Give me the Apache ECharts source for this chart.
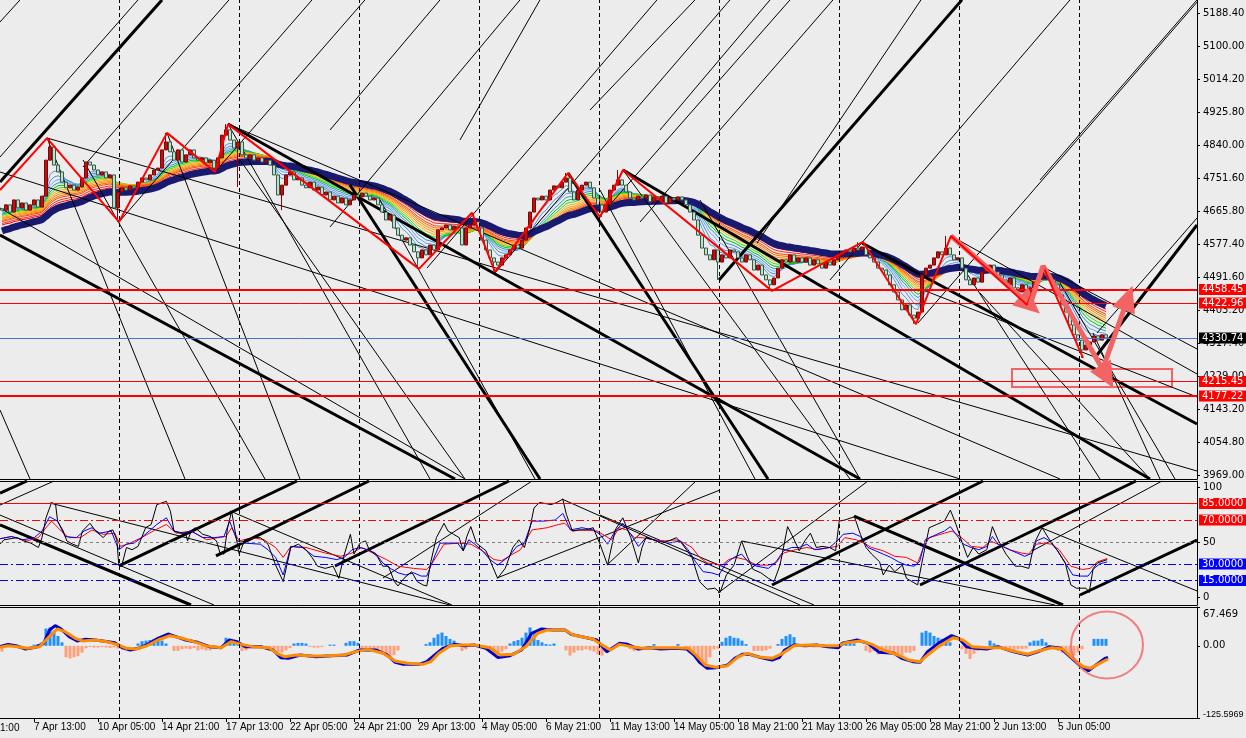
<!DOCTYPE html>
<html>
<head>
<meta charset="utf-8">
<script src="https://cdn.jsdelivr.net/npm/echarts@6/dist/echarts.min.js"></script>
<style>
html,body{margin:0;padding:0;background:#ececec;}
#chart{width:1246px;height:738px;}
</style>
</head>
<body>
<div id="chart"></div>
<script>
// ---- price data (H4 bars) ----
const firstOpen = 4672;
const closes = [
  4668,4682,4663,4695,4674,4687,4668,4682,4695,4676,
  4705,4800,4835,4787,4769,4742,4727,4734,4721,4729,
  4753,4795,4787,4774,4761,4769,4753,4761,4674,4716,
  4727,4721,4732,4727,4742,4753,4748,4761,4774,4779,
  4827,4848,4822,4800,4827,4795,4814,4827,4806,4800,
  4806,4793,4800,4779,4806,4866,4880,4853,4832,4848,
  4814,4806,4814,4800,4806,4795,4800,4787,4761,4708,
  4734,4761,4769,4748,4753,4734,4727,4742,4721,4729,
  4708,4716,4695,4705,4687,4700,4682,4695,4708,4703,
  4713,4705,4695,4700,4682,4663,4642,4655,4621,4602,
  4589,4595,4576,4558,4542,4563,4550,4576,4563,4616,
  4621,4629,4616,4626,4621,4576,4621,4629,4637,4621,
  4589,4563,4542,4531,4523,4542,4550,4563,4576,4568,
  4589,4621,4663,4700,4695,4705,4695,4721,4732,4727,
  4742,4753,4716,4695,4721,4734,4742,4727,4700,4682,
  4663,4682,4721,4734,4748,4734,4716,4700,4695,4705,
  4700,4708,4690,4703,4695,4705,4687,4700,4695,4703,
  4695,4682,4663,4642,4602,4568,4550,4537,4563,4531,
  4550,4542,4563,4558,4542,4531,4550,4537,4510,4523,
  4497,4484,4471,4489,4515,4537,4531,4550,4531,4542,
  4531,4542,4523,4537,4526,4515,4531,4523,4537,4550,
  4558,4563,4558,4568,4563,4571,4550,4542,4531,4515,
  4510,4497,4471,4452,4431,4405,4418,4391,4383,4399,
  4497,4515,4523,4542,4558,4550,4568,4550,4537,4542,
  4515,4484,4471,4489,4478,4505,4515,4523,4505,4497,
  4484,4471,4489,4463,4452,4471,4444,4463,4478,4489,
  4505,4497,4484,4471,4444,4418,4399,4365,4339,4325,
  4299,4312,4320,4336,4325,4339,4330.74
];
// [bar, high, low] for the longer shadows
const wicks = [
  [12,4858,null],[29,null,4637],[41,4872,null],[53,null,4769],[56,4895,null],
  [59,null,4729],[70,null,4668],[104,null,4513],[118,4661,null],[123,null,4505],
  [141,4766,null],[150,null,4650],[154,4774,null],[179,null,4484],[192,null,4455],
  [214,4584,null],[228,null,4368],[236,4600,null],[256,null,4418],[261,4521,null],
  [270,null,4278]
];

const ribbonPeriods = [5,7,9,11,13,15,17,19,21,23,25,28,31];
const ribbonSeeds = [4668,4665,4662,4658,4655,4652,4648,4645,4642,4638,4635,4630,4626];
const ribbonColors = ['#5b9bd5','#4a90e2','#6aa8f0','#3d8fe0','#00c800','#2edc2e','#ffb400','#ffa000',
  '#ff8c00','#ff6a00','#ff4500','#ff2a2a','#ff0000'];
const navyPeriod = 36;
const navySeed = 4610;

const zigzag = [[-0.5,4721],[11.25,4858],[29.25,4637],[41.25,4872],[53.25,4769],[56.5,4895],
  [104.25,4513],[117.5,4661],[123.25,4505],[141.5,4766],[149.5,4650],[155.25,4774],
  [192.5,4455],[215.25,4584],[228.5,4367],[237.25,4600],[256.25,4418],[260.25,4521],[270.25,4278]];

const redLevelsThick = [4458.45, 4177.22];
const redLevelsThin = [4422.96, 4215.45];
const bidPrice = 4330.74;

const priceTicks = [5188.40,5100.00,5014.20,4925.80,4840.00,4751.60,4665.80,4577.40,4491.60,
  4403.20,4317.40,4229.00,4143.20,4054.80,3969.00];
const timeTickBars = [8,24,40,56,72,88,104,120,136,152,168,184,200,216,232,248,264];
const timeLabels = ['7 Apr 13:00','10 Apr 05:00','14 Apr 21:00','17 Apr 13:00','22 Apr 05:00',
  '24 Apr 21:00','29 Apr 13:00','4 May 05:00','6 May 21:00','11 May 13:00','14 May 05:00',
  '18 May 21:00','21 May 13:00','26 May 05:00','28 May 21:00','2 Jun 13:00','5 Jun 05:00'];
const gridBars = [29.25,59.25,89.25,119.25,149.25,179.25,209.25,239.25,269.25];

// trend lines in the price window: [[bar, price], [bar, price]]
const thinLines = [
  [[-0.5,5164.6],[4.5,5223]], [[-0.5,4808.3],[34,5223]], [[20.25,4781.9],[56.75,5223]],
  [[29.25,4636.7],[77.5,5223]], [[53.25,4768.7],[90.75,5223]], [[82,4623.6],[129.5,5223]],
  [[106.25,4515.3],[163.75,5223]], [[123.25,4502.1],[182,5223]], [[149.5,4652.6],[197,5223]],
  [[159.5,4636.7],[207.75,5223]], [[188.75,4581.3],[229.75,5223]], [[207,4483.7],[267,5223]],
  [[229,4370.2],[299.25,5223]], [[273.75,4343.8],[298.75,4647.3]], [[259.5,4747.6],[298.75,5223]],
  [[82,4879.6],[109.5,5223]], [[114.5,4853.2],[134.5,5223]], [[147,4932.4],[173.25,5223]],
  [[164.5,4879.6],[192,5223]],
  [[-0.5,4768.7],[239.5,3958.4]], [[11.25,4858.5],[298.75,3979.5]], [[-0.5,4673.7],[115.75,3958.4]],
  [[56.5,4895.4],[264.5,3958.4]], [[237.75,4597.2],[298.75,4235.6]], [[260.25,4518],[298.75,4301.6]],
  [[230.25,4457.3],[298.75,4174.9]],
  [[11.25,4858.5],[45.75,3958.4]], [[20.25,4800.4],[65.75,3958.4]], [[41.25,4871.7],[74.5,3958.4]],
  [[56.5,4895.4],[107,3958.4]], [[59.5,4800.4],[115.75,3958.4]], [[94.5,4694.8],[133.25,3958.4]],
  [[149.5,4721.2],[188.25,3958.4]], [[155.25,4774],[212,3958.4]], [[174.5,4694.8],[214.5,3958.4]],
  [[239.5,4528.5],[274.5,3958.4]], [[244.5,4449.4],[287,3958.4]], [[264.5,4475.7],[293.25,3958.4]],
  [[272.75,4343.8],[289.5,3958.4]], [[-0.5,4140.5],[7,3958.4]]
];
const thickLines = [
  [[-0.5,4742.3],[40,5223]], [[179.25,4483.7],[240,5223]], [[273.75,4285.7],[298.75,4628.8]],
  [[-0.5,4602.4],[113.25,3958.4]], [[56.5,4895.4],[214.5,3958.4]], [[155.25,4774],[287,3958.4]],
  [[215,4581.3],[298.75,4103.6]], [[87,4734.4],[134.5,3958.4]], [[141.5,4766.1],[191.5,3958.4]]
];

// pink annotation
const arrowPaths = [
  [[237.25,4600],[257,4418]],
  [[260.25,4521],[276.25,4228]],
  [[275.25,4251],[281.5,4436]]
];
const pinkLink = [[257,4418],[260.25,4521]];
const zone = [[252.5,4249],[292.5,4201]];

// ---- oscillator window ----
const oscTicks = [100,50,0];
const oscBlack = [
  [-0.5,48],[0.5,52],[3.8,54],[5.4,51],[7.2,49],[9.1,45],[10,54],[11,72],[12.4,86],[13.4,84],
  [13.9,69],[15.3,60],[16.2,51],[17.7,48],[19.1,46],[20.1,60],[22,67],[23.4,60],[25.3,54],[26.8,60],
  [27.7,61],[28.7,52],[29.2,29],[29.9,28],[31.1,45],[32.5,43],[34,46],[34.9,54],[35.9,63],[37.3,66],
  [38.7,84],[41.1,87],[42.1,78],[43,60],[44.5,58],[45.9,58],[46.4,51],[47.3,60],[48.3,63],[50.2,57],
  [52.1,55],[53.6,51],[54.5,40],[55.5,39],[56.4,63],[57.4,78],[58.4,57],[59.3,39],[60.7,52],[62.7,54],
  [64.6,54],[66.5,48],[68.4,29],[70.3,14],[72.2,45],[74.1,48],[76,43],[77.5,36],[78.9,28],[80.8,26],
  [82.8,28],[84.2,17],[85.6,39],[87.1,57],[88,39],[89.5,49],[90.9,51],[91.8,43],[93.8,37],[95.2,28],
  [96.6,28],[98.1,14],[99,10],[100.5,17],[102.4,23],[103.8,14],[105.2,11],[106.2,10],[107.2,32],[108.6,54],
  [110.5,67],[111.5,60],[112.9,57],[114.3,54],[115.3,42],[116.2,55],[117.2,64],[118.6,49],[121,42],[122.5,29],
  [123.9,17],[125.8,26],[127.7,45],[129.2,52],[130.6,45],[132,63],[133,81],[134.4,86],[137.3,84],[138.7,86],
  [140.2,89],[141.1,75],[142.6,60],[144,61],[145.9,61],[147.8,63],[149.5,48],[151.4,29],[153.3,61],[155.2,72],
  [157.2,54],[159.1,31],[160,45],[161,54],[162.9,52],[164.8,49],[166.7,51],[168.6,54],[170.1,48],[172.5,36],
  [174.4,14],[176.3,7],[178.2,8],[179.5,4],[181.1,20],[183,29],[184.9,51],[186.3,37],[187.8,25],[189.7,22],
  [191.6,17],[193,14],[194.5,29],[196.4,64],[197.8,54],[199.3,42],[200.7,51],[202.1,58],[203.6,45],[205,46],
  [206.9,45],[208.4,42],[209.3,69],[210.7,70],[213.1,73],[214.6,57],[216,45],[217.4,39],[219.4,32],[220.3,20],
  [221.8,29],[223.2,23],[225.1,29],[226.1,17],[227.5,14],[228.9,11],[230.4,39],[231.8,63],[233.7,66],[235.6,69],
  [237.1,79],[238.5,66],[239.9,51],[241.4,36],[242.8,45],[244.2,39],[246.2,43],[247.6,64],[249,52],[251,39],
  [253.3,28],[254.8,28],[256.7,26],[258.1,49],[260,63],[261.9,52],[263.9,42],[265.8,31],[267.2,11],[268.6,8],
  [271,8],[271.8,4],[272.8,26],[273.9,31],[276.3,34]
];
const oscBlue = [
  [-0.5,53],[2.4,55],[5.2,52],[8.1,54],[10,60],[11.9,73],[13.9,69],[15.8,55],[18.6,54],[20.5,60],
  [22.5,63],[24.4,58],[27.3,60],[29.2,43],[31.1,48],[33,49],[34.9,54],[36.8,60],[38.7,66],[41.1,72],
  [43,60],[45.4,58],[47.3,60],[50.2,54],[53.1,54],[55.5,55],[56.9,69],[58.8,51],[60.7,49],[64.6,48],
  [66.5,43],[68.4,36],[70.3,20],[72.2,46],[75.1,45],[78,37],[80.8,36],[83.7,34],[85.6,36],[87.5,43],
  [89.5,45],[91.4,43],[93.3,40],[95.2,31],[97.1,26],[99,22],[100.9,20],[102.9,22],[104.8,19],[106.2,19],
  [107.6,32],[109.5,49],[111.5,49],[113.9,49],[115.3,42],[116.7,52],[118.2,48],[120.1,42],[122,34],[123.9,29],
  [126.8,37],[128.7,46],[130.6,49],[132.5,69],[135.4,69],[138.3,70],[140.2,76],[142.1,61],[145,63],[147.8,61],
  [149.5,57],[151.4,48],[153.3,60],[155.2,67],[157.2,57],[159.1,46],[161,54],[163.9,51],[166.7,49],[169.6,51],
  [171.5,43],[173.4,32],[175.3,23],[177.3,22],[179.2,20],[181.1,31],[183,36],[184.9,39],[186.8,31],[188.7,28],
  [191.6,26],[193.5,32],[195.4,42],[197.4,45],[199.3,45],[201.2,48],[203.1,43],[206.9,45],[208.8,51],[210.3,57],
  [212.7,58],[214.6,55],[216.5,45],[218.4,42],[220.3,39],[222.2,36],[224.1,32],[226.1,29],[228,28],[229.4,32],
  [230.8,52],[233.7,57],[235.6,60],[237.1,64],[238.5,57],[240.4,48],[242.3,45],[244.2,43],[246.2,46],[247.6,55],
  [249,48],[251.9,43],[253.8,40],[255.7,37],[257.6,40],[258.6,51],[260.5,54],[261.9,51],[263.9,42],[265.8,31],
  [267.7,20],[269.6,19],[271.5,19],[273,26],[274.4,30],[276.3,32]
];
const oscRed = [
  [-0.5,53],[2.4,55],[6.2,51],[9.1,54],[11,63],[12.4,69],[14.8,60],[16.7,54],[19.6,54],[22.5,61],
  [25.3,57],[28.2,58],[29.6,46],[32,49],[34.9,54],[37.8,60],[41.1,66],[43.5,58],[47.3,60],[51.2,52],
  [54,54],[56,55],[57.4,63],[59.3,51],[62.7,54],[65.5,52],[68.4,45],[70.3,36],[72.2,46],[76,45],
  [80.8,40],[84.7,37],[87.5,40],[89.9,45],[93.3,39],[96.1,34],[99,28],[102.9,26],[106.2,25],[107.6,31],
  [110.5,48],[114.3,49],[117.2,48],[120.1,42],[123,34],[124.9,33],[127.7,39],[129.6,43],[132.5,61],[136.3,63],
  [139.2,66],[140.7,67],[142.6,60],[145,61],[148.8,60],[152.4,52],[154.3,63],[156.2,61],[158.1,54],[160,54],
  [162.9,52],[165.8,51],[168.6,52],[170.6,49],[172.5,45],[174.4,36],[176.3,31],[178.2,30],[180.1,29],[181.6,34],
  [183.5,36],[185.9,34],[188.7,29],[191.6,29],[193.5,31],[195.4,40],[198.3,43],[201.2,45],[204,43],[206.9,45],
  [208.8,46],[210.7,54],[213.6,52],[215.5,49],[217.4,45],[220.3,42],[223.2,37],[226.1,36],[228.9,31],[230.4,45],
  [231.8,54],[235.6,58],[237.5,60],[239.9,54],[242.3,46],[245.2,45],[247.1,51],[249,48],[251.9,43],[254.8,40],
  [256.7,39],[258.6,48],[260.5,49],[262.4,48],[264.3,43],[267.2,28],[270.1,25],[272,26],[273.9,32],[276.3,35]
];
const oscLevels = [85,70,50,30,15];
const oscThin = [
  [[-0.5,83.6],[13,105.5]], [[123.75,17.3],[179.5,97.3]], [[151.25,29.1],[173.5,105.5]],
  [[179,3.6],[216.5,105.5]], [[257.5,41.8],[290,105.5]], [[95.25,17.3],[132.5,105.5]],
  [[-0.5,74.5],[53,-7.3]], [[12,85.5],[112,-7.3]], [[57,78.2],[112.5,-7.3]], [[140,89.1],[199.5,-7.3]],
  [[260,62.7],[298.75,5.5]], [[149.5,74.5],[203,-7.3]], [[185,50.9],[263.25,-7.3]]
];
const oscThick = [
  [[29.25,28.2],[73.75,105.5]], [[53.5,37.3],[91.75,105.5]], [[83.25,28.2],[126.75,105.5]],
  [[192.5,10.9],[245.25,105.5]], [[229.5,10.9],[283.5,105.5]], [[269.5,1.8],[298.75,51.8]],
  [[-0.5,94.5],[6.25,105.5]], [[-0.5,65.5],[47.25,-7.3]], [[213,73.6],[265.25,-7.3]]
];

// ---- MACD window ----
const macdTicks = [67.469, 0, -125.5969];
const macdMain = [
  [-0.5,-1.5],[1.5,2.5],[3.5,0],[5.9,-5.6],[8.4,-2.7],[10.4,4.3],[11.9,27.5],[13.3,35],[14.8,29],[16.8,15.9],
  [18.8,8.3],[20.7,11.2],[22.7,10.6],[25.2,8.3],[28.2,5.4],[30.1,-3.3],[32.1,-7.3],[34.1,-4.4],[36.1,1.4],[39,13],
  [41.5,20.5],[43.5,15.9],[45.9,10.1],[48.9,6],[51.9,-1.5],[54.8,-3.3],[56.8,10.1],[58.8,7.2],[60.8,-1.5],[64.7,-1.5],
  [67.7,-7.3],[69.7,-20.6],[71.6,-21.8],[74.6,-16],[78.5,-18.9],[82.5,-17.2],[86.4,-16],[89.4,-7.3],[93.4,-7.3],[96.3,-16],
  [98.3,-28.8],[100.3,-32.2],[104.2,-32.2],[106.2,-27.6],[108.2,-16],[110.2,-4.4],[113.1,2.5],[115.6,0.2],[118.1,1.4],[121,-4.4],
  [124,-20.6],[127,-17.2],[129.9,-7.3],[132.4,21.7],[134.9,29.2],[137.8,27.5],[140.8,27.5],[142.3,19.9],[146.7,13],[148.7,10.1],
  [151.2,-10.2],[154.4,4.3],[156.4,2.5],[159.1,-5.6],[161.9,-3.3],[164.7,-5.6],[168.4,-4.4],[171.2,-5.6],[173,-16],[174.4,-28.8],
  [176.3,-39.2],[178.6,-38],[181.4,-33.4],[183.2,-21.8],[185.1,-14.8],[186.9,-14.8],[189.7,-20.6],[192.5,-24.7],[194.3,-20.6],[195.7,-7.3],
  [198,1.4],[200.8,0.2],[203.6,1.4],[206.4,-1.5],[209.1,-3.3],[210.1,4.3],[213.8,10.1],[216.5,4.3],[219.3,-11.4],[223,-13.1],
  [224.9,-21.8],[227.7,-27.6],[229.5,-28.8],[231.4,-10.2],[234.1,4.3],[237.4,17.6],[239.2,13],[241.1,-1.5],[243.4,-4.4],[246.2,-5.6],
  [249,-1.5],[252.7,-10.2],[256.4,-16],[259.1,-10.2],[261.9,-1.5],[264.7,-4.4],[267,-18.9],[269.3,-33.4],[271.6,-43.3],[273.5,-33.4],
  [275.8,-21.8],[276.5,-20]
];
const macdSignal = [
  [-0.5,-2.7],[1.5,0.2],[3.9,-1.5],[6.4,-4.4],[9.4,-1.5],[11.4,13],[13.8,29.2],[15.8,24.6],[18.3,13],[20.2,8.3],
  [23.2,10.1],[26.2,7.2],[29.1,1.4],[31.1,-4.4],[33.6,-5.6],[36.1,-0.4],[39,10.1],[42,17.6],[45,13],[47.9,7.2],
  [50.9,0.2],[54.8,-3.3],[57.3,7.2],[59.8,2.5],[62.7,-1.5],[66.7,-3.3],[68.7,-13.1],[70.6,-18.9],[73.6,-16],[77.6,-17.7],
  [81.5,-17.2],[85.5,-16],[88.4,-10.2],[91.4,-6.2],[95.3,-13.1],[98.3,-26.4],[101.3,-30.5],[105.2,-32.2],[107.2,-27.6],[109.2,-13.1],
  [112.1,0.2],[115.1,1.4],[118.1,1.4],[122,-3.3],[124.5,-16],[127.9,-14.8],[130.9,-1.5],[133.9,21.7],[136.3,27.5],[140.8,27.5],
  [142.8,18.8],[147.7,11.8],[150.7,-1.5],[152.1,-7.3],[154.4,2.5],[157.3,-1.5],[160.1,-4.4],[163.8,-3.3],[168.4,-3.3],[171.6,-4.4],
  [173.5,-16],[175.8,-33.4],[178.6,-37.5],[181.4,-34.6],[184.1,-18.9],[186.4,-13.1],[188.8,-18.9],[192.5,-21.8],[195.2,-13.1],[198,0.2],
  [201.7,1.4],[206.4,0.2],[209.1,0.2],[211,5.4],[214.7,8.3],[217.5,2.5],[220.2,-7.3],[224,-16],[226.7,-24.7],[229.5,-27.6],
  [231.4,-16],[234.1,-1.5],[237.8,14.1],[240.2,10.1],[242.5,-1.5],[246.2,-3.3],[249.9,-3.3],[252.7,-9.1],[256.4,-14.8],[259.1,-9.1],
  [262.4,-3.3],[265.2,-5.6],[267.5,-20.6],[270.3,-36.3],[272.1,-39.2],[274.4,-30.5],[276.5,-22.9]
];
// histogram bars [bar, value]
const macdHist = [
  [0,-10],[4,-3],[5,-3],[8,2],[9,3],[10,6],[11,30],[12,32],[13,26],[14,17],[15,6],
  [16,-20],[17,-22],[18,-20],[19,-18],[20,-12],[21,-4],[22,-2],[23,-3],[24,-3],[25,-2],[26,-3],[27,-4],[28,-3],[29,-5],[30,-5],
  [34,4],[35,8],[36,9],[37,10],[38,12],[39,14],[40,9],[41,4],
  [43,-9],[44,-9],[45,-6],[46,-5],[47,-6],[48,-4],[49,-8],[50,-6],[51,-8],[52,-8],[53,-4],
  [56,14],[57,12],[58,8],[59,4],[60,-9],[61,-8],
  [63,-2],[64,-3],[65,-2],[66,-5],[67,-8],[68,-9],[69,-11],[70,-12],[71,-8],[72,-4],
  [73,4],[74,5],[75,5],[76,4],[77,-2],[78,-3],[79,-3],[80,-2],[82,2],[83,2],
  [86,5],[87,8],[88,8],[89,5],
  [90,-5],[91,-6],[92,-8],[93,-10],[94,-12],[95,-14],[96,-18],[97,-22],[98,-16],[99,-8],
  [106,3],[107,6],[108,14],[109,20],[110,23],[111,17],[112,12],[113,9],[114,4],[115,-9],[116,-6],
  [120,-4],[121,-8],[122,-12],[123,-15],[124,-14],[125,-10],[126,-6],
  [127,4],[128,8],[129,10],[130,14],[131,23],[132,32],[133,20],[134,10],[135,6],[136,3],[137,2],[138,4],
  [141,-8],[142,-17],[143,-12],[144,-8],[145,-8],[146,-6],[147,-8],[148,-10],[149,-15],[150,-17],[151,-10],
  [157,-6],[158,-9],[159,-8],[163,3],[169,3],
  [171,-3],[172,-8],[173,-12],[174,-20],[175,-29],[176,-35],[177,-20],[178,-6],[179,-5],
  [180,7],[181,14],[182,17],[183,14],[184,13],[185,9],[186,3],
  [188,-9],[189,-9],[190,-9],[191,-8],[192,-5],
  [194,3],[195,12],[196,17],[197,20],[198,15],[203,-3],[204,-3],[205,-2],
  [210,6],[211,6],[212,5],[213,4],
  [216,-9],[217,-12],[218,-9],[219,-15],[220,-14],[221,-12],[222,-14],[223,-12],[224,-15],[225,-17],[226,-12],[227,-12],[228,-9],
  [230,23],[231,26],[232,23],[233,17],[234,14],[235,12],[236,9],[237,6],
  [240,-6],[241,-14],[242,-23],[243,-14],[244,-9],[245,-6],[247,9],[248,4],
  [251,-6],[252,-8],[253,-9],[254,-6],[255,-6],[256,-5],
  [257,6],[258,9],[259,9],[260,12],[261,6],
  [263,-6],[264,-9],[265,-12],[266,-14],[267,-17],[268,-17],[269,-12],[270,-6],
  [273,12],[274,12],[275,12],[276,12]
];
const circleAt = [276.25, 1.4];

// ---- build ----
const FONT = 'DejaVu Sans';
const TIME_FONT = 'Liberation Sans';
const chart = echarts.init(document.getElementById('chart'));

const wickMap = {};
wicks.forEach(w => { wickMap[w[0]] = w; });
const candles = closes.map((c, i) => {
  const o = i ? closes[i - 1] : firstOpen;
  let hi = Math.max(o, c), lo = Math.min(o, c);
  const w = wickMap[i];
  if (w) {
    if (w[1] != null) hi = w[1];
    if (w[2] != null) lo = w[2];
  }
  return [i, o, c, lo, hi];
});

const ema = (period, seed) => {
  const k = 2 / (period + 1);
  let v = seed;
  return closes.map((c, i) => [i, (v = v + k * (c - v))]);
};

const xAxisBase = (g, pos, labels) => ({
  type: 'value', gridIndex: g, position: pos, min: -0.5, max: 298.75,
  axisLine: { show: true, onZero: false, lineStyle: { color: '#000', width: 1 } },
  axisTick: { show: labels, customValues: timeTickBars, length: 4, lineStyle: { color: '#000' } },
  axisLabel: {
    show: labels, customValues: timeTickBars, align: 'left', margin: 4,
    color: '#000', fontSize: 10, fontFamily: TIME_FONT,
    formatter: v => timeLabels[timeTickBars.indexOf(v)] || ''
  },
  splitLine: { show: false }
});

const yAxisBase = (g, min, max, ticks, fmt, rich) => ({
  type: 'value', gridIndex: g, position: 'right', min, max,
  axisLine: { show: true, onZero: false, lineStyle: { color: '#000', width: 1 } },
  axisTick: { show: true, customValues: ticks, length: 3, lineStyle: { color: '#000' } },
  axisLabel: { customValues: ticks, formatter: fmt, color: '#000', fontSize: 10, fontFamily: FONT, margin: 6, rich },
  splitLine: { show: false }
});

const trend = (pts, g, width) => ({
  type: 'line', xAxisIndex: g, yAxisIndex: g, data: pts, symbol: 'none', silent: true,
  clip: true, z: 3, lineStyle: { color: '#000', width }
});

const gridLines = g => ({
  type: 'line', xAxisIndex: g, yAxisIndex: g, data: [], z: 0, silent: true,
  markLine: {
    symbol: 'none', silent: true, animation: false, label: { show: false },
    lineStyle: { color: '#000', type: [4, 3], width: 1 },
    data: gridBars.map(b => ({ xAxis: b }))
  }
});

const tagLabel = (bg, fmt) => ({
  show: true, position: 'end', distance: 2, formatter: fmt,
  backgroundColor: bg, color: '#fff', padding: [1, 3, 0, 3], fontSize: 10, fontFamily: FONT
});

const series = [gridLines(0), gridLines(1), gridLines(2)];

thinLines.forEach(l => series.push(trend(l, 0, 1)));
thickLines.forEach(l => series.push(trend(l, 0, 3)));

ribbonPeriods.forEach((p, i) => series.push({
  type: 'line', xAxisIndex: 0, yAxisIndex: 0, data: ema(p, ribbonSeeds[i]), symbol: 'none',
  silent: true, z: 2, lineStyle: { color: ribbonColors[i], width: 1 }
}));
series.push({
  type: 'line', xAxisIndex: 0, yAxisIndex: 0, data: ema(navyPeriod, navySeed), symbol: 'none',
  silent: true, z: 2, lineStyle: { color: '#191970', width: 7 }
});

series.push({
  type: 'candlestick', xAxisIndex: 0, yAxisIndex: 0, data: candles, barWidth: 3, z: 4,
  encode: { x: 0, y: [1, 2, 3, 4] },
  itemStyle: { color: '#b41414', color0: '#c6dcc6', borderColor: '#8b0000', borderColor0: '#2f5b4b', borderWidth: 1 }
});

series.push({
  type: 'line', xAxisIndex: 0, yAxisIndex: 0, data: zigzag, symbol: 'none', silent: true, z: 5,
  lineStyle: { color: '#ff0000', width: 2 }
});

series.push({
  type: 'line', xAxisIndex: 0, yAxisIndex: 0, data: [], z: 6, silent: true,
  markLine: {
    symbol: 'none', silent: true, animation: false,
    data: [
      ...redLevelsThick.map(v => ({ yAxis: v, lineStyle: { color: '#ff0000', width: 2, type: 'solid' },
        label: tagLabel('#ff0000', p => p.value.toFixed(2)) })),
      ...redLevelsThin.map(v => ({ yAxis: v, lineStyle: { color: '#ff0000', width: 1, type: 'solid' },
        label: tagLabel('#ff0000', p => p.value.toFixed(2)) })),
      { yAxis: bidPrice, lineStyle: { color: '#4a6fd8', width: 1, type: 'solid' },
        label: tagLabel('#000000', p => p.value.toFixed(2)) }
    ]
  }
});

series.push({
  type: 'line', xAxisIndex: 0, yAxisIndex: 0, data: [pinkLink[0], pinkLink[1]], symbol: 'none',
  silent: true, z: 7, lineStyle: { color: '#f26464', width: 5 },
  markLine: {
    silent: true, animation: false, symbol: ['none', 'triangle'], symbolSize: [24, 26],
    label: { show: false }, lineStyle: { color: '#f26464', width: 5, type: 'solid' },
    data: arrowPaths.map(([a, b]) => [{ coord: a }, { coord: b }])
  },
  markArea: {
    silent: true,
    itemStyle: { color: 'rgba(0,0,0,0)', borderColor: '#f26464', borderWidth: 2 },
    data: [[{ coord: zone[0] }, { coord: zone[1] }]]
  }
});

// oscillator
oscThin.forEach(l => series.push(trend(l, 1, 1)));
oscThick.forEach(l => series.push(trend(l, 1, 3)));
const oscStyle = {
  85: { color: '#ff0000', type: 'solid', tag: '#ff0000' },
  70: { color: '#ff0000', type: [8, 3, 2, 3], tag: '#ff0000' },
  50: { color: '#808080', type: [3, 3], tag: null },
  30: { color: '#0000ff', type: [8, 3, 2, 3], tag: '#0000ff' },
  15: { color: '#0000ff', type: [8, 3, 2, 3], tag: '#0000ff' }
};
series.push({
  type: 'line', xAxisIndex: 1, yAxisIndex: 1, data: [], z: 2, silent: true,
  markLine: {
    symbol: 'none', silent: true, animation: false,
    data: oscLevels.map(v => ({
      yAxis: v, lineStyle: { color: oscStyle[v].color, type: oscStyle[v].type, width: 1 },
      label: oscStyle[v].tag ? tagLabel(oscStyle[v].tag, p => p.value.toFixed(4)) : { show: false }
    }))
  }
});
[[oscRed, '#ff0000'], [oscBlue, '#0000ff'], [oscBlack, '#000000']].forEach(([d, c]) => series.push({
  type: 'line', xAxisIndex: 1, yAxisIndex: 1, data: d, symbol: 'none', silent: true, z: 4,
  lineStyle: { color: c, width: 1 }
}));

// MACD
series.push({
  type: 'bar', xAxisIndex: 2, yAxisIndex: 2, barWidth: 3, z: 2, silent: true,
  data: macdHist.map(([b, v]) => ({ value: [b, v], itemStyle: { color: v >= 0 ? '#1e90ff' : '#ffa07a' } }))
});
series.push({
  type: 'line', xAxisIndex: 2, yAxisIndex: 2, data: macdMain, symbol: 'none', silent: true, z: 3,
  lineStyle: { color: '#0000cd', width: 3 }
});
series.push({
  type: 'line', xAxisIndex: 2, yAxisIndex: 2, data: macdSignal, symbol: 'none', silent: true, z: 4,
  lineStyle: { color: '#ff8c00', width: 3 }
});
series.push({
  type: 'scatter', xAxisIndex: 2, yAxisIndex: 2, data: [circleAt], symbol: 'circle', symbolSize: [72, 67],
  silent: true, z: 6, itemStyle: { color: 'rgba(0,0,0,0)', borderColor: '#f26464', borderWidth: 2 }
});

// edge labels of the MACD scale sit inside the window, as in the terminal
const macdRich = {
  t: { padding: [14, 0, 0, 0], fontSize: 10, fontFamily: FONT, color: '#000' },
  b: { padding: [0, 0, 6, 0], fontSize: 9, fontFamily: TIME_FONT, color: '#000' }
};

chart.setOption({
  animation: false,
  backgroundColor: '#ececec',
  grid: [
    { left: 0, right: 49, top: 0, height: 479, outerBoundsMode: 'none', containLabel: false },
    { left: 0, right: 49, top: 481, height: 124, outerBoundsMode: 'none', containLabel: false },
    { left: 0, right: 49, top: 607, height: 111, outerBoundsMode: 'none', containLabel: false }
  ],
  xAxis: [
    xAxisBase(0, 'bottom', false), xAxisBase(1, 'bottom', false), xAxisBase(2, 'bottom', true),
    xAxisBase(1, 'top', false), xAxisBase(2, 'top', false)
  ],
  yAxis: [
    yAxisBase(0, 3958.4, 5222.7, priceTicks, v => v.toFixed(2)),
    yAxisBase(1, -7.3, 105.5, oscTicks, v => String(v)),
    yAxisBase(2, -125.5969, 67.469, macdTicks, v =>
      v > 1 ? '{t|' + macdTicks[0] + '}' : v < -1 ? '{b|' + macdTicks[2] + '}' : '0.00', macdRich)
  ],
  series,
  graphic: [{ type: 'text', left: 0, top: 723, style: { text: '1:00', fill: '#000', fontSize: 10, fontFamily: TIME_FONT } }]
});
</script>
</body>
</html>
